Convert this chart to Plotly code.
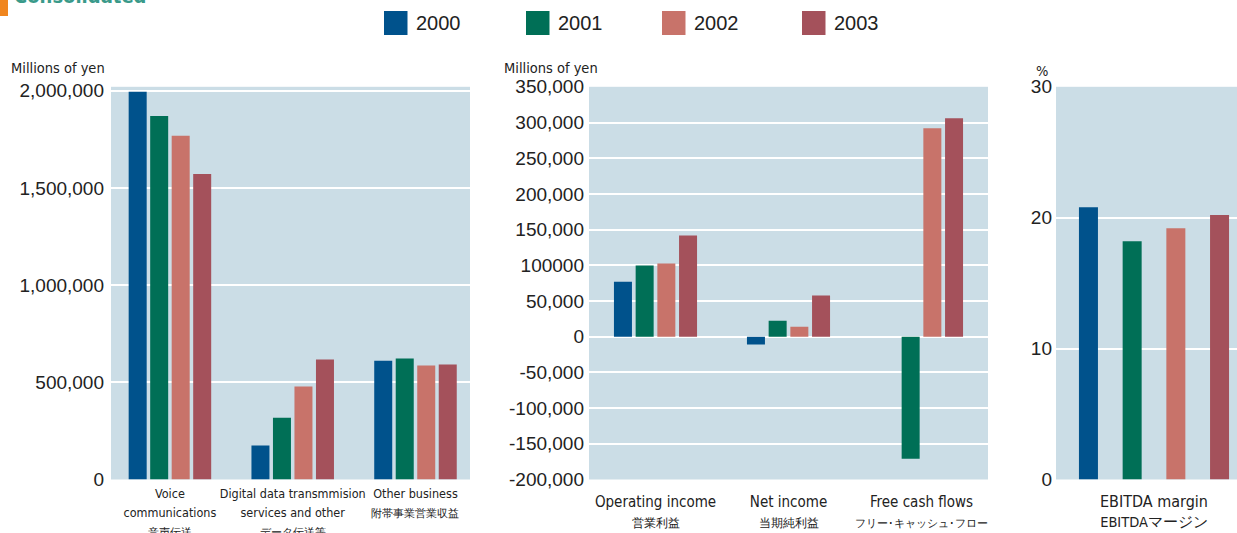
import plotly.graph_objects as go

years = ["2000", "2001", "2002", "2003"]
colors = ["#00528c", "#006f56", "#c8736a", "#a4515b"]


def lab(en_lines, jp, en_size, jp_size):
    en = "<br>".join(f"<span style='font-size:{en_size}px'>{t}</span>" for t in en_lines)
    return f"{en}<br><span style='font-size:{jp_size}px'>{jp}</span>"


revenue_cats = [
    lab(["Voice", "communications"], "音声伝送", 12.5, 11),
    lab(["Digital data transmmision", "services and other"], "データ伝送等", 12.5, 11),
    lab(["Other business"], "附帯事業営業収益", 12.5, 11),
]
revenue = {
    "2000": [1994000, 175000, 611000],
    "2001": [1870000, 318000, 622000],
    "2002": [1768000, 478000, 586000],
    "2003": [1572000, 617000, 591000],
}

income_cats = [
    lab(["Operating income"], "営業利益", 15, 12),
    lab(["Net income"], "当期純利益", 15, 12),
    lab(["Free cash flows"], "フリー･キャッシュ･フロー", 15, 11),
]
income = {
    "2000": [77000, -11000, 0],
    "2001": [99700, 22500, -171000],
    "2002": [102500, 14000, 292000],
    "2003": [141800, 57600, 306000],
}

margin_cats = [lab(["EBITDA margin"], "EBITDAマージン", 16, 14.5)]
ebitda = {"2000": [20.8], "2001": [18.2], "2002": [19.2], "2003": [20.2]}

income_ticks = [350000, 300000, 250000, 200000, 150000, 100000, 50000, 0,
                -50000, -100000, -150000, -200000]
income_ticktext = ["350,000", "300,000", "250,000", "200,000", "150,000", "100000",
                   "50,000", "0", "-50,000", "-100,000", "-150,000", "-200,000"]

W, H = 1237, 533
BG = "#cbdde6"
TXT = "#222222"
NARROW = "DejaVu Sans Condensed, Liberation Sans Narrow, sans-serif"
SANS = "Liberation Sans, Arial, sans-serif"

fig = go.Figure()

# (axis suffix, categories, data, slot px, bar px, px per unit)
panels = [
    ("", revenue_cats, revenue, 21.5, 18, 122.75),
    ("2", income_cats, income, 21.7, 18, 133.0),
    ("3", margin_cats, ebitda, 43.7, 19, 100.0),
]
for suffix, cats, data, slot_px, bar_px, ppu in panels:
    slot = slot_px / ppu
    width = bar_px / ppu
    for i, yr in enumerate(years):
        fig.add_trace(go.Bar(
            x=cats, y=data[yr], name=yr,
            marker=dict(color=colors[i], line=dict(width=0)),
            width=width, offset=(i - 2) * slot + (slot - width) / 2,
            xaxis="x" + suffix, yaxis="y" + suffix,
            showlegend=False, hoverinfo="y",
        ))


def px_x(a, b):
    return [a / W, b / W]


ydom = [1 - 479.5 / H, 1 - 86.8 / H]
tickfont = dict(family=SANS, size=19, color=TXT)
xcommon = dict(showgrid=False, ticks="", tickangle=0, automargin=False)
ycommon = dict(gridcolor="white", gridwidth=2, zeroline=False, tickfont=tickfont,
               automargin=False, ticks="")

fig.update_layout(
    width=W, height=H,
    margin=dict(l=0, r=0, t=0, b=0, autoexpand=False),
    paper_bgcolor="white",
    plot_bgcolor=BG,
    barmode="overlay",
    xaxis=dict(domain=px_x(111, 470), range=[-0.48, 2.444], ticklabelstandoff=3,
               tickfont=dict(family=NARROW, size=14.5, color=TXT), **xcommon),
    yaxis=dict(domain=ydom, range=[0, 2020000], dtick=500000, tickformat=",d",
               ticklabelstandoff=6, **ycommon),
    xaxis2=dict(domain=px_x(589, 988), range=[-0.5, 2.5], anchor="y2",
                ticklabelstandoff=10,
                tickfont=dict(family=NARROW, size=16, color=TXT), **xcommon),
    yaxis2=dict(domain=ydom, range=[-200000, 350000], tickvals=income_ticks,
                ticktext=income_ticktext, anchor="x2", ticklabelstandoff=4, **ycommon),
    xaxis3=dict(domain=px_x(1056, 1237), range=[-0.98, 0.83], anchor="y3",
                ticklabelstandoff=10,
                tickfont=dict(family=NARROW, size=16, color=TXT), **xcommon),
    yaxis3=dict(domain=ydom, range=[0, 30], dtick=10, anchor="x3",
                ticklabelstandoff=3, **ycommon),
)

# unit labels
for x_px, y_px, txt in [(9, 68, "Millions of yen"), (502, 68, "Millions of yen"),
                        (1034, 71, "%")]:
    fig.add_annotation(x=x_px / W, y=1 - y_px / H, xref="paper", yref="paper",
                       text=txt, showarrow=False, xanchor="left", yanchor="middle",
                       font=dict(family=NARROW, size=14.5, color=TXT))

# legend drawn as squares and labels
legend_x = [384, 526, 662, 802]
for i, yr in enumerate(years):
    x0 = legend_x[i]
    fig.add_shape(type="rect", xref="paper", yref="paper",
                  x0=x0 / W, x1=(x0 + 23.5) / W, y0=1 - 35 / H, y1=1 - 11 / H,
                  fillcolor=colors[i], line_width=0)
    fig.add_annotation(x=(x0 + 30) / W, y=1 - 23 / H, xref="paper", yref="paper",
                       text=yr, showarrow=False, xanchor="left", yanchor="middle",
                       font=dict(family=SANS, size=20, color=TXT))

# section header, cut off at the top of the page
fig.add_shape(type="rect", xref="paper", yref="paper", x0=0, x1=8 / W,
              y0=1 - 16 / H, y1=1.02, fillcolor="#f0861f", line_width=0)
fig.add_annotation(x=12 / W, y=1 + 4 / H, xref="paper", yref="paper",
                   text="<b>Consolidated</b>", showarrow=False,
                   xanchor="left", yanchor="middle",
                   font=dict(family=NARROW, size=20, color="#3a9a8a"))

# the page's default body margin would shift the chart by 8px
fig.write_html("out.html", config={"displayModeBar": False},
               post_script="document.body.style.margin='0';")
